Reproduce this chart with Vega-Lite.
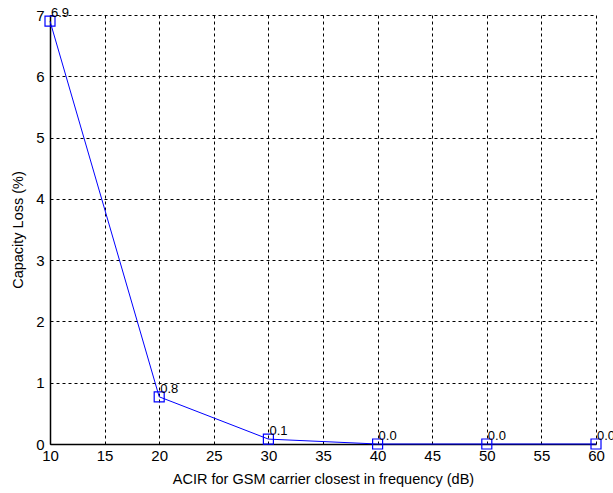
{
  "$schema": "https://vega.github.io/schema/vega-lite/v6.json",
  "width": 546,
  "height": 429,
  "autosize": {"type": "none"},
  "padding": {"left": 50, "top": 15, "right": 17, "bottom": 49},
  "background": "white",
  "config": {
    "view": {"stroke": null},
    "font": "Liberation Sans",
    "axis": {
      "gridColor": "black",
      "gridDash": [3, 3],
      "gridOpacity": 1,
      "gridWidth": 1,
      "domainColor": "black",
      "domainWidth": 1.5,
      "ticks": false,
      "labelFlush": false,
      "labelOverlap": false,
      "labelFont": "Liberation Sans",
      "labelFontSize": 15,
      "labelColor": "black",
      "titleFont": "Liberation Sans",
      "titleFontSize": 14.5,
      "titleFontWeight": "normal",
      "titleColor": "black"
    }
  },
  "data": {
    "values": [
      {"acir": 10, "loss": 6.9, "label": "6.9"},
      {"acir": 20, "loss": 0.77, "label": "0.8"},
      {"acir": 30, "loss": 0.08, "label": "0.1"},
      {"acir": 40, "loss": 0.0, "label": "0.0"},
      {"acir": 50, "loss": 0.0, "label": "0.0"},
      {"acir": 60, "loss": 0.0, "label": "0.0"}
    ]
  },
  "encoding": {
    "x": {
      "field": "acir",
      "type": "quantitative",
      "scale": {"domain": [10, 60], "nice": false, "zero": false},
      "axis": {
        "values": [10, 15, 20, 25, 30, 35, 40, 45, 50, 55, 60],
        "title": "ACIR for GSM carrier closest in frequency (dB)",
        "labelPadding": 4,
        "titlePadding": 9
      }
    },
    "y": {
      "field": "loss",
      "type": "quantitative",
      "scale": {"domain": [0, 7], "nice": false},
      "axis": {
        "values": [0, 1, 2, 3, 4, 5, 6, 7],
        "title": "Capacity Loss (%)",
        "labelPadding": 6,
        "titlePadding": 10
      }
    }
  },
  "layer": [
    {"mark": {"type": "line", "color": "#0000FF", "strokeWidth": 1}},
    {"mark": {"type": "point", "shape": "square", "filled": false, "color": "#0000FF", "size": 100, "strokeWidth": 1.2, "opacity": 1}},
    {
      "mark": {"type": "text", "align": "left", "baseline": "alphabetic", "dx": 1, "dy": -4, "fontSize": 13, "color": "black", "font": "Liberation Sans"},
      "encoding": {"text": {"field": "label"}}
    }
  ]
}
